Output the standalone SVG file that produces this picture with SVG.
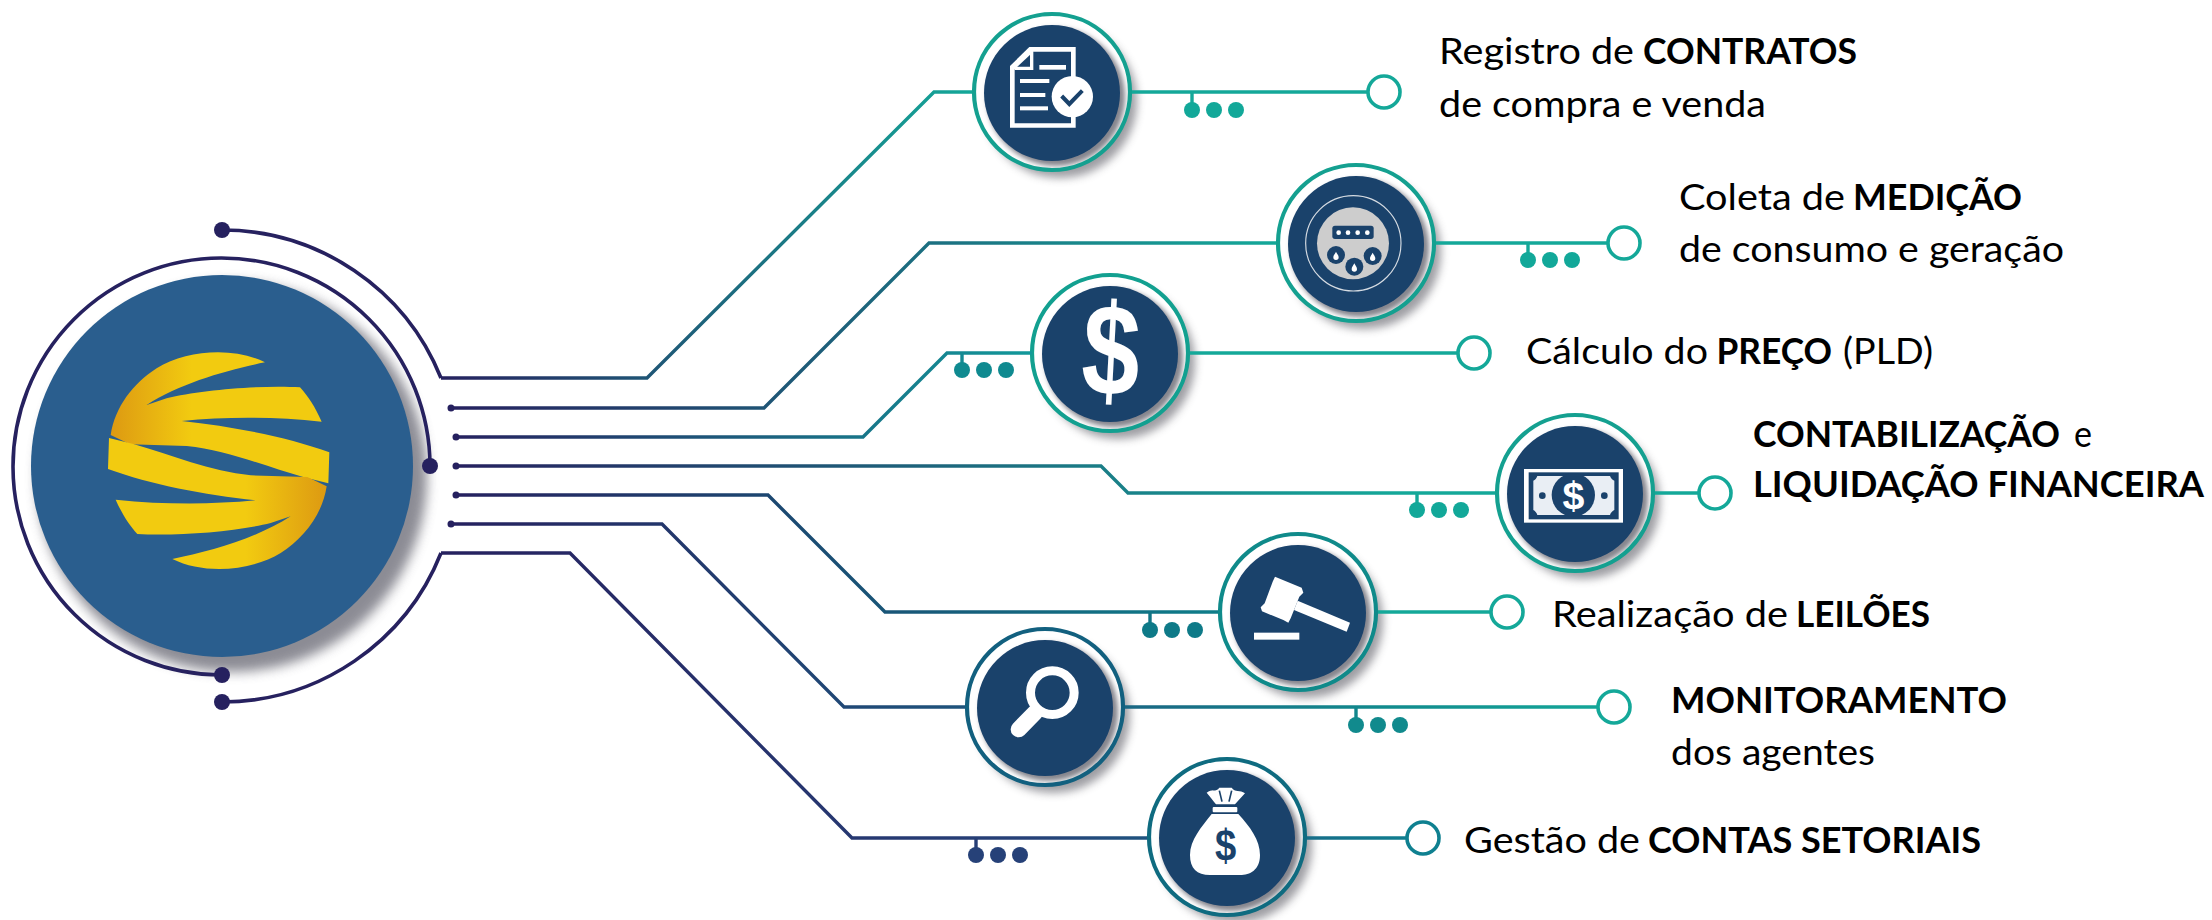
<svg xmlns="http://www.w3.org/2000/svg" xmlns:xlink="http://www.w3.org/1999/xlink" width="2212" height="920" viewBox="0 0 2212 920">
<style>
.t{font-family:Lato,"Liberation Sans",sans-serif;font-size:36.5px;fill:#000}
.b{font-weight:700}
.ln{fill:none;stroke-width:3.4;stroke-linejoin:miter}
.arc{fill:none;stroke:#26215f;stroke-width:3.6}
.ring{fill:none;stroke-width:4.2}
.usd{font-family:"Liberation Sans",Arial,sans-serif;font-weight:700;text-anchor:middle}
.w{fill:#fff}
.bl{fill:#1a426b}
.end{fill:#fff;stroke-width:3.6}
</style>
<defs>
<filter id="b2" x="-30%" y="-30%" width="160%" height="160%"><feGaussianBlur stdDeviation="2.5"/></filter>
<filter id="b4" x="-30%" y="-30%" width="160%" height="160%"><feGaussianBlur stdDeviation="4"/></filter>
<filter id="b7" x="-30%" y="-30%" width="160%" height="160%"><feGaussianBlur stdDeviation="6"/></filter>
<linearGradient id="g1" gradientUnits="userSpaceOnUse" x1="441" y1="0" x2="972" y2="0"><stop offset="0" stop-color="#26215f"/><stop offset="1" stop-color="#14a899"/></linearGradient>
<linearGradient id="g2" gradientUnits="userSpaceOnUse" x1="451" y1="0" x2="1276" y2="0"><stop offset="0" stop-color="#26215f"/><stop offset="1" stop-color="#14a899"/></linearGradient>
<linearGradient id="g3" gradientUnits="userSpaceOnUse" x1="456" y1="0" x2="1030" y2="0"><stop offset="0" stop-color="#26215f"/><stop offset="1" stop-color="#12989a"/></linearGradient>
<linearGradient id="g4" gradientUnits="userSpaceOnUse" x1="456" y1="0" x2="1400" y2="0"><stop offset="0" stop-color="#26215f"/><stop offset="1" stop-color="#14a899"/></linearGradient>
<linearGradient id="g5" gradientUnits="userSpaceOnUse" x1="456" y1="0" x2="1507" y2="0"><stop offset="0" stop-color="#26215f"/><stop offset=".7" stop-color="#0f7a88"/><stop offset="1" stop-color="#14a899"/></linearGradient>
<linearGradient id="g6" gradientUnits="userSpaceOnUse" x1="451" y1="0" x2="1614" y2="0"><stop offset="0" stop-color="#26215f"/><stop offset=".5" stop-color="#1d5a80"/><stop offset=".8" stop-color="#118a8d"/><stop offset="1" stop-color="#14a899"/></linearGradient>
<linearGradient id="g7" gradientUnits="userSpaceOnUse" x1="441" y1="0" x2="1423" y2="0"><stop offset="0" stop-color="#26215f"/><stop offset=".6" stop-color="#264178"/><stop offset="1" stop-color="#0f8090"/></linearGradient>
<linearGradient id="gold" gradientUnits="userSpaceOnUse" x1="335" y1="0" x2="575" y2="0"><stop offset="0" stop-color="#dd9a12"/><stop offset="1" stop-color="#f2cb10"/></linearGradient>
<g id="disc">
<circle cx="8" cy="9" r="77" fill="#5f5f68" opacity=".6" filter="url(#b4)"/>
<circle r="78" fill="#fff"/>
<circle cx="4" cy="5" r="69" fill="#85858d" filter="url(#b2)"/>
<circle cy="1" r="68" fill="#1a426b"/>
</g>
<path id="drop" d="M0,-13 C3,-6 8,-2 8,4 A8,8 0 1 1 -8,4 C-8,-2 -3,-6 0,-13Z"/>
<path id="swoosh" d="M795,487 C700,440 560,450 470,505 C400,550 345,620 332,705 L390,733 L560,738 C680,750 800,800 912,832 L985,850 L988,757 C860,710 700,680 545,663 C680,650 820,650 965,665 C945,620 925,590 900,562 C780,555 600,570 500,595 L440,615 C540,550 680,510 795,487Z" fill="url(#gold)"/>
</defs>

<g id="node-logo">
<circle cx="232" cy="477" r="195" fill="#70707a" opacity=".8" filter="url(#b7)"/>
<circle cx="222" cy="466" r="191" fill="#2a5e8e"/>
<g transform="scale(.33333) translate(0,600)">
<use href="#swoosh"/>
<use href="#swoosh" transform="rotate(180 656 782)"/>
</g>
</g>

<g id="node-contratos">
<use href="#disc" x="1052" y="92"/>
<circle class="ring" cx="1052" cy="92" r="78" stroke="#14a090"/>
<g transform="translate(940,0) scale(.33333)">
<path class="w" d="M210,198 L268,141 H407 V383 H210Z"/>
<path class="bl" d="M224,208 L280,155 H393 V370 H224Z"/>
<path class="w" d="M280,155 V210 H224 V200 H270 V155Z"/>
<rect class="w" x="298" y="195" width="80" height="14"/>
<rect class="w" x="240" y="237" width="88" height="12"/>
<rect class="w" x="240" y="279" width="76" height="12"/>
<rect class="w" x="240" y="319" width="84" height="12"/>
<circle class="w" cx="397" cy="290" r="62"/>
<path d="M365,288 L388,312 L427,272" fill="none" stroke="#1a426b" stroke-width="12"/>
</g>
</g>

<g id="node-medicao">
<use href="#disc" x="1356" y="243"/>
<circle class="ring" cx="1356" cy="243" r="78" stroke="#14a090"/>
<g transform="translate(940,0) scale(.33333)">
<circle cx="1240" cy="730" r="143" fill="none" stroke="#d5dbe2" stroke-width="3.5"/>
<circle cx="1239" cy="730" r="108" fill="#cdcdcd"/>
<rect class="bl" x="1177" y="677" width="124" height="40" rx="8"/>
<circle class="w" cx="1196" cy="698" r="7"/><circle class="w" cx="1224" cy="698" r="7"/><circle class="w" cx="1253" cy="698" r="7"/><circle class="w" cx="1282" cy="698" r="7"/>
<circle class="bl" cx="1188" cy="765" r="27"/><circle class="bl" cx="1298" cy="768" r="27"/><circle class="bl" cx="1243" cy="800" r="27"/>
<use href="#drop" class="w" x="1188" y="768"/><use href="#drop" class="w" x="1298" y="771"/><use href="#drop" class="w" x="1243" y="803"/>
</g>
</g>

<g id="node-preco">
<use href="#disc" x="1110" y="353"/>
<circle class="ring" cx="1110" cy="353" r="78" stroke="#12a090"/>
<text class="usd w" font-size="130" transform="translate(1109,395) rotate(3) scale(.8,1)">$</text>
</g>

<g id="node-contabilizacao">
<use href="#disc" x="1575" y="493"/>
<circle class="ring" cx="1575" cy="493" r="78" stroke="#14a090"/>
<g transform="translate(1200,400) scale(.33333)">
<rect class="w" x="972" y="207" width="297" height="161"/>
<rect class="bl" x="986" y="217" width="270" height="141"/>
<path d="M1012,228 H1230 C1232,235 1238,240 1243,242 V330 C1238,332 1232,338 1230,345 H1012 C1010,338 1005,332 1000,330 V242 C1005,240 1010,235 1012,228Z" fill="#e9eef4"/>
<circle class="bl" cx="1120" cy="285" r="65"/>
<circle class="bl" cx="1027" cy="287" r="10"/><circle class="bl" cx="1213" cy="287" r="10"/>
<text class="usd w" x="1120" y="328" font-size="118">$</text>
</g>
</g>

<g id="node-leiloes">
<use href="#disc" x="1298" y="612"/>
<circle class="ring" cx="1298" cy="612" r="78" stroke="#0f8a8a"/>
<g transform="translate(1200,400) scale(.33333)" class="w">
<path d="M225,530 L305,563 L310,578 L298,590 L272,655 L265,668 L250,660 L186,634 L182,622 L194,610 L218,545Z"/>
<path d="M293,602 L450,668 L440,695 L282,630Z"/>
<rect x="162" y="698" width="136" height="21"/>
</g>
</g>

<g id="node-monitoramento">
<use href="#disc" x="1045" y="707"/>
<circle class="ring" cx="1045" cy="707" r="78" stroke="#12607f"/>
<g transform="translate(940,620) scale(.33333)">
<line x1="236" y1="328" x2="285" y2="278" stroke="#fff" stroke-width="48" stroke-linecap="round"/>
<circle cx="337" cy="218" r="65.5" fill="#1a426b" stroke="#fff" stroke-width="27"/>
</g>
</g>

<g id="node-contas">
<use href="#disc" x="1227" y="837"/>
<circle class="ring" cx="1227" cy="837" r="78" stroke="#0f6b80"/>
<g transform="translate(940,620) scale(.33333)">
<path class="w" d="M800,518 C815,505 828,518 838,503 L875,503 C885,518 900,508 915,520 C905,530 895,543 885,553 H828 C820,543 810,530 800,518Z"/>
<path d="M838,512 L846,545 M875,512 L867,545" fill="none" stroke="#1a426b" stroke-width="5"/>
<rect class="w" x="818" y="561" width="74" height="16" rx="3"/>
<path class="w" d="M815,582 H895 C930,620 960,660 960,705 C960,750 930,765 900,765 H810 C770,765 750,745 750,705 C750,660 785,620 815,582Z"/>
<text class="usd bl" font-size="135" transform="translate(857,722) scale(.85,1)">$</text>
</g>
</g>

<g id="connectors">
<path class="arc" d="M430,466 A208.5,208.5 0 1 0 222,675"/>
<path class="arc" d="M222,230 A236,236 0 0 1 441,378"/>
<path class="arc" d="M222,702 A236,236 0 0 0 441,553"/>
<circle cx="430" cy="466" r="8" fill="#26215f"/><circle cx="222" cy="675" r="8" fill="#26215f"/><circle cx="222" cy="230" r="8" fill="#26215f"/><circle cx="222" cy="702" r="8" fill="#26215f"/>

<g id="c1">
<path class="ln" stroke="url(#g1)" d="M441,378 H647 L934,92 H972"/>
<path class="ln" stroke="#14a899" d="M1132,92 H1368 M1192,92 V110"/>
<circle class="end" cx="1384" cy="92" r="16" stroke="#14a899"/>
<g fill="#12a899"><circle cx="1192" cy="110" r="8"/><circle cx="1214" cy="110" r="8"/><circle cx="1236" cy="110" r="8"/></g>
</g>
<g id="c2">
<circle cx="451" cy="408" r="3.5" fill="#26215f"/>
<path class="ln" stroke="url(#g2)" d="M451,408 H764 L929,243 H1276"/>
<path class="ln" stroke="#14a899" d="M1436,243 H1608 M1528,243 V260"/>
<circle class="end" cx="1624" cy="243" r="16" stroke="#14a899"/>
<g fill="#12a899"><circle cx="1528" cy="260" r="8"/><circle cx="1550" cy="260" r="8"/><circle cx="1572" cy="260" r="8"/></g>
</g>
<g id="c3">
<circle cx="456" cy="437" r="3.5" fill="#26215f"/>
<path class="ln" stroke="url(#g3)" d="M456,437 H863 L947,353 H1032 M962,353 V370"/>
<path class="ln" stroke="#14a899" d="M1190,353 H1458"/>
<circle class="end" cx="1474" cy="353" r="16" stroke="#14a899"/>
<g fill="#0f8a90"><circle cx="962" cy="370" r="8"/><circle cx="984" cy="370" r="8"/><circle cx="1006" cy="370" r="8"/></g>
</g>
<g id="c4">
<circle cx="456" cy="466" r="3.5" fill="#26215f"/>
<path class="ln" stroke="url(#g4)" d="M456,466 H1101 L1128,493 H1495 M1417,493 V510"/>
<path class="ln" stroke="#14a899" d="M1655,493 H1699"/>
<circle class="end" cx="1715" cy="493" r="16" stroke="#14a899"/>
<g fill="#12a899"><circle cx="1417" cy="510" r="8"/><circle cx="1439" cy="510" r="8"/><circle cx="1461" cy="510" r="8"/></g>
</g>
<g id="c5">
<circle cx="456" cy="495" r="3.5" fill="#26215f"/>
<path class="ln" stroke="url(#g5)" d="M456,495 H768 L885,612 H1218 M1150,612 V630"/>
<path class="ln" stroke="#14a899" d="M1378,612 H1491"/>
<circle class="end" cx="1507" cy="612" r="16" stroke="#14a899"/>
<g fill="#0e7a88"><circle cx="1150" cy="630" r="8"/><circle cx="1172" cy="630" r="8"/><circle cx="1195" cy="630" r="8"/></g>
</g>
<g id="c6">
<circle cx="451" cy="524" r="3.5" fill="#26215f"/>
<path class="ln" stroke="url(#g6)" d="M451,524 H662 L844,707 H965 M1125,707 H1598 M1356,707 V725"/>
<circle class="end" cx="1614" cy="707" r="16" stroke="#14a899"/>
<g fill="#118a8d"><circle cx="1356" cy="725" r="8"/><circle cx="1378" cy="725" r="8"/><circle cx="1400" cy="725" r="8"/></g>
</g>
<g id="c7">
<path class="ln" stroke="url(#g7)" d="M441,553 H570 L852,838 H1147 M1307,838 H1407 M976,838 V855"/>
<circle class="end" cx="1423" cy="838" r="16" stroke="#0f8090"/>
<g fill="#264178"><circle cx="976" cy="855" r="8"/><circle cx="998" cy="855" r="8"/><circle cx="1020" cy="855" r="8"/></g>
</g>
</g>

<g id="labels">
<text class="t" y="64"><tspan x="1439" textLength="195" lengthAdjust="spacingAndGlyphs">Registro de</tspan> <tspan class="b" x="1643" textLength="214" lengthAdjust="spacingAndGlyphs">CONTRATOS</tspan></text>
<text class="t" x="1439" y="117" textLength="327" lengthAdjust="spacingAndGlyphs">de compra e venda</text>
<text class="t" y="210"><tspan x="1679" textLength="166" lengthAdjust="spacingAndGlyphs">Coleta de</tspan> <tspan class="b" x="1853" textLength="169" lengthAdjust="spacingAndGlyphs">MEDIÇÃO</tspan></text>
<text class="t" x="1679" y="262" textLength="385" lengthAdjust="spacingAndGlyphs">de consumo e geração</text>
<text class="t" y="364"><tspan x="1526" textLength="182" lengthAdjust="spacingAndGlyphs">Cálculo do</tspan> <tspan class="b" x="1716.5" textLength="115.5" lengthAdjust="spacingAndGlyphs">PREÇO</tspan> <tspan x="1843" textLength="90" lengthAdjust="spacingAndGlyphs">(PLD)</tspan></text>
<text class="t" y="447"><tspan class="b" x="1753" textLength="307" lengthAdjust="spacingAndGlyphs">CONTABILIZAÇÃO</tspan> <tspan x="2074" textLength="18" lengthAdjust="spacingAndGlyphs">e</tspan></text>
<text class="t b" x="1753" y="497" textLength="451" lengthAdjust="spacingAndGlyphs">LIQUIDAÇÃO FINANCEIRA</text>
<text class="t" y="627"><tspan x="1552" textLength="236" lengthAdjust="spacingAndGlyphs">Realização de</tspan> <tspan class="b" x="1796" textLength="134" lengthAdjust="spacingAndGlyphs">LEILÕES</tspan></text>
<text class="t b" x="1671" y="713" textLength="336" lengthAdjust="spacingAndGlyphs">MONITORAMENTO</text>
<text class="t" x="1671" y="765" textLength="204" lengthAdjust="spacingAndGlyphs">dos agentes</text>
<text class="t" y="853"><tspan x="1464" textLength="176" lengthAdjust="spacingAndGlyphs">Gestão de</tspan> <tspan class="b" x="1648" textLength="333" lengthAdjust="spacingAndGlyphs">CONTAS SETORIAIS</tspan></text>
</g>
</svg>
